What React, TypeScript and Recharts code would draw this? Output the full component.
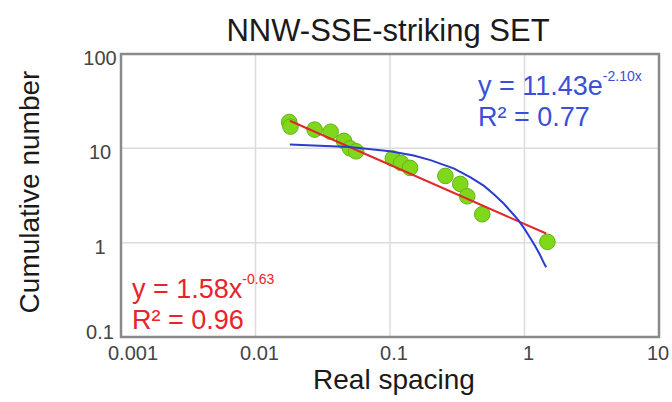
import React from 'react';
import {
  ScatterChart,
  Scatter,
  XAxis,
  YAxis,
  CartesianGrid,
  ReferenceArea,
} from 'recharts';

// measured spacings and cumulative counts
const spacingX = [0.0178, 0.0182, 0.0275, 0.0362, 0.0455, 0.0505, 0.056, 0.105, 0.121, 0.141, 0.258, 0.333, 0.375, 0.485, 1.48];
const cumulativeY = [19, 17, 15.8, 15, 12, 10, 9.3, 7.8, 7, 6.2, 5.1, 4.2, 3.1, 2, 1.02];

// power trendline (straight in log-log)
const powerX = [0.018, 1.45];
const powerY = [19.6, 1.25];

// exponential trendline
const expX = [0.018, 0.05, 0.1, 0.15, 0.2, 0.3, 0.4, 0.5, 0.6, 0.7, 0.8, 0.9, 1.0, 1.1, 1.2, 1.3, 1.4, 1.45];
const expY = [11.0, 10.3, 9.3, 8.4, 7.5, 6.1, 4.9, 4.0, 3.2, 2.6, 2.1, 1.73, 1.4, 1.13, 0.92, 0.75, 0.6, 0.55];

const xTicks = [0.001, 0.01, 0.1, 1, 10];
const yTicks = [0.1, 1, 10, 100];

const zip = (xs: number[], ys: number[]) => xs.map((x, i) => ({ x, y: ys[i] }));

const points = zip(spacingX, cumulativeY);
const powerLine = zip(powerX, powerY);
const expLine = zip(expX, expY);

const FONT = '"Liberation Sans", Arial, sans-serif';

const Dot = (props: any) => {
  const { cx, cy } = props;
  return <circle cx={cx} cy={cy} r={7.8} fill="#80d81c" stroke="#62b312" strokeWidth={1} />;
};

const NoShape = () => <g />;

const YTick = (props: any) => {
  const { y, payload } = props;
  const shift = payload.value === 0.1 ? -5 : 4;
  return (
    <text x={100} y={y + shift} textAnchor="middle" dominantBaseline="central" fontSize={20} fill="#444" fontFamily={FONT}>
      {String(payload.value)}
    </text>
  );
};

const XTick = (props: any) => {
  const { x, y, payload } = props;
  let shift = 4;
  if (payload.value === 0.001) shift = 12;
  if (payload.value === 10) shift = -1;
  return (
    <text x={x + shift} y={y + 1} textAnchor="middle" dy="0.71em" fontSize={20} fill="#444" fontFamily={FONT}>
      {String(payload.value)}
    </text>
  );
};

const App: React.FC = () => {
  return (
    <div style={{ position: 'absolute', left: 0, top: 0, width: 672, height: 402, background: '#fff', fontFamily: FONT }}>
      <ScatterChart width={672} height={402} margin={{ top: 54, right: 13, left: 0, bottom: 25 }}>
        <CartesianGrid stroke="#dcdcdc" strokeWidth={1.5} />
        <XAxis
          dataKey="x"
          type="number"
          scale="log"
          domain={[0.001, 10]}
          ticks={xTicks}
          height={40}
          axisLine={false}
          tickLine={false}
          tick={<XTick />}
          allowDataOverflow
        />
        <YAxis
          dataKey="y"
          type="number"
          scale="log"
          domain={[0.1, 100]}
          ticks={yTicks}
          width={121}
          axisLine={false}
          tickLine={false}
          tick={<YTick />}
          allowDataOverflow
        />
        <ReferenceArea x1={0.001} x2={10} y1={0.1} y2={100} fill="none" stroke="#8a8a8a" strokeWidth={2.5} />
        <Scatter data={points} shape={<Dot />} isAnimationActive={false} />
        <Scatter data={powerLine} line={{ stroke: '#e3262b', strokeWidth: 2 }} shape={<NoShape />} isAnimationActive={false} />
        <Scatter data={expLine} line={{ stroke: '#2c3ccf', strokeWidth: 2 }} shape={<NoShape />} isAnimationActive={false} />
      </ScatterChart>

      <div style={{ position: 'absolute', left: 0, width: 776, top: 13, textAlign: 'center', fontSize: 31, color: '#1a1a1a', whiteSpace: 'nowrap' }}>
        NNW-SSE-striking SET
      </div>
      <div style={{ position: 'absolute', left: 0, width: 788, top: 364, textAlign: 'center', fontSize: 28, color: '#1a1a1a', whiteSpace: 'nowrap' }}>
        Real spacing
      </div>
      <div
        style={{
          position: 'absolute',
          left: 30,
          top: 192,
          transform: 'translate(-50%, -50%) rotate(-90deg)',
          fontSize: 28,
          color: '#1a1a1a',
          whiteSpace: 'nowrap',
        }}
      >
        Cumulative number
      </div>

      <div style={{ position: 'absolute', left: 478, top: 73, fontSize: 27, lineHeight: '27px', color: '#3b4fd6', whiteSpace: 'nowrap' }}>
        <div>
          y = 11.43e<span style={{ fontSize: 14, position: 'relative', top: -14 }}>-2.10x</span>
        </div>
        <div>R² = 0.77</div>
      </div>

      <div style={{ position: 'absolute', left: 132, top: 276, fontSize: 27, lineHeight: '27px', color: '#e8232b', whiteSpace: 'nowrap' }}>
        <div>
          y = 1.58x<span style={{ fontSize: 14, position: 'relative', top: -14 }}>-0.63</span>
        </div>
        <div>R² = 0.96</div>
      </div>
    </div>
  );
};

export default App;
